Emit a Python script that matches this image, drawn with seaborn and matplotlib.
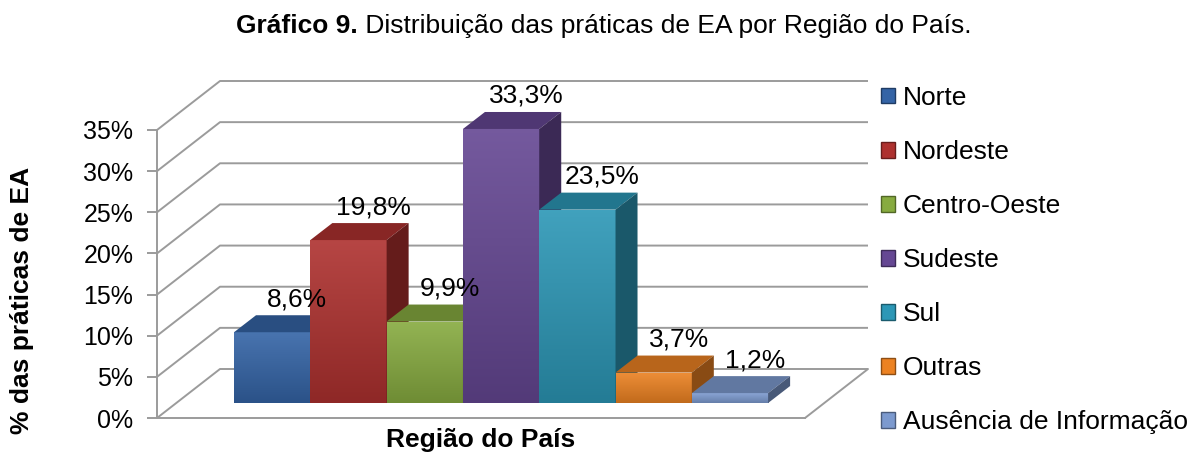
import matplotlib
matplotlib.use("Agg")
import matplotlib.pyplot as plt
import seaborn as sns
import pandas as pd
import numpy as np
from matplotlib.patches import Polygon, Patch
from matplotlib.colors import to_rgb, LinearSegmentedColormap
from matplotlib.ticker import FuncFormatter

# dados
regioes = ['Norte', 'Nordeste', 'Centro-Oeste', 'Sudeste', 'Sul', 'Outras', 'Ausência de Informação']
valores = [8.6, 19.8, 9.9, 33.3, 23.5, 3.7, 1.2]
cores = ['#3464A6', '#AE312F', '#87AB40', '#654793', '#2C97B6', '#EC8222', '#7C9ACF']
yticks = [0, 5, 10, 15, 20, 25, 30, 35]

df = pd.DataFrame({'Regiao': regioes, 'Valor': valores})

sns.set_style('white')
plt.rcParams['font.family'] = ['Liberation Sans', 'DejaVu Sans']
plt.rcParams['text.color'] = 'black'
plt.rcParams['ytick.color'] = 'black'
plt.rcParams['axes.labelcolor'] = 'black'

GRID = '#9b9b9b'


def shade(c, f):
    c = np.array(to_rgb(c))
    if f >= 1:
        return tuple(c + (1 - c) * (f - 1))
    return tuple(c * f)


fig = plt.figure(figsize=(12, 4.53), dpi=100)
ax = fig.add_axes([157 / 1200, 35 / 453, 648 / 1200, 288 / 453])

sns.barplot(data=df, x='Regiao', y='Valor', hue='Regiao', palette=cores,
            width=1, saturation=1, legend=False, ax=ax)

ax.set_xlim(-1.254, 7.239)
ax.set_ylim(0, 35)
xl, xr = ax.get_xlim()

# pixels -> unidades de dados
p0 = ax.transData.transform((0, 0))
p1 = ax.transData.transform((1, 1))
sx, sy = p1[0] - p0[0], p1[1] - p0[1]
WX, WY = 63 / sx, 49 / sy      # profundidade das paredes
BX, BY = 19.5 / sx, 15 / sy    # recuo das barras
DX, DY = 22 / sx, 17 / sy      # profundidade das barras

# paredes / grade 3D
for t in yticks:
    ax.plot([xl, xl + WX, xr + WX], [t, t + WY, t + WY], color=GRID, lw=1.4,
            zorder=0.5, clip_on=False, solid_capstyle='butt')
ax.plot([xr, xr + WX], [0, WY], color=GRID, lw=1.4, zorder=0.5, clip_on=False)

# barras 3D
for i, p in enumerate(ax.patches):
    x0, w, h = p.get_x(), p.get_width(), p.get_height()
    base = to_rgb(p.get_facecolor())
    p.set_x(x0 + BX)
    p.set_y(BY)
    p.set_zorder(4 + 2 * i)
    p.set_edgecolor('none')
    fx0, fx1, top = x0 + BX, x0 + BX + w, BY + h

    cmap = LinearSegmentedColormap.from_list('g', [shade(base, 1.1), shade(base, 0.82)])
    im = ax.imshow(np.linspace(0, 1, 100).reshape(-1, 1), cmap=cmap,
                   extent=[fx0, fx1, BY, top], origin='upper', aspect='auto',
                   zorder=4 + 2 * i + 0.1)
    im.set_clip_path(p)

    ax.add_patch(Polygon([(fx0, top), (fx1, top), (fx1 + DX, top + DY), (fx0 + DX, top + DY)],
                         closed=True, facecolor=shade(base, 0.78), edgecolor='none',
                         zorder=5 + 2 * i, clip_on=False))
    ax.add_patch(Polygon([(fx1, BY), (fx1, top), (fx1 + DX, top + DY), (fx1 + DX, BY + DY)],
                         closed=True, facecolor=shade(base, 0.58), edgecolor='none',
                         zorder=5 + 2 * i, clip_on=False))

    rotulo = f"{valores[i]:.1f}".replace('.', ',') + '%'
    ax.annotate(rotulo, xy=((fx0 + fx1) / 2, top), xytext=(25, 33),
                textcoords='offset pixels', ha='center', va='center',
                fontsize=19, color='black', zorder=40, annotation_clip=False)

ax.set_xlim(xl, xr)
ax.set_ylim(0, 35)

# eixos
ax.set_xticks([])
ax.set_yticks(yticks)
ax.yaxis.set_major_formatter(FuncFormatter(lambda v, pos: f"{int(v)}%"))
ax.tick_params(axis='y', left=True, length=7, width=1.4, color=GRID,
               labelcolor='black', labelsize=18, pad=10)
ax.set_xlabel('')
ax.set_ylabel('')
for s in ['top', 'right']:
    ax.spines[s].set_visible(False)
for s in ['left', 'bottom']:
    ax.spines[s].set_color(GRID)
    ax.spines[s].set_linewidth(1.4)
    ax.spines[s].set_zorder(0.5)

fig.text(481 / 1200, 1 - 440 / 453, 'Região do País', fontsize=19, weight='bold',
         ha='center', va='center')
fig.text(22 / 1200, 1 - 300 / 453, '% das práticas de EA', fontsize=19, weight='bold',
         ha='center', va='center', rotation=90)

# legenda
handles = [Patch(facecolor=c, edgecolor=shade(c, 0.6), lw=1) for c in cores]
ax.legend(handles, regioes, loc='upper left', bbox_to_anchor=(881 / 1200, 1 - 86 / 453),
          bbox_transform=fig.transFigure, frameon=False, fontsize=19,
          handlelength=0.53, handleheight=0.53, handletextpad=0.3,
          labelspacing=1.14, borderpad=0, borderaxespad=0)

# título (parte em negrito + parte normal)
r = fig.canvas.get_renderer()
t1 = fig.text(0, 0, 'Gráfico 9.', fontsize=19, weight='bold', va='center')
t2 = fig.text(0, 0, ' Distribuição das práticas de EA por Região do País.', fontsize=19, va='center')
w1 = t1.get_window_extent(r).width
w2 = t2.get_window_extent(r).width
xs = 604 - (w1 + w2) / 2
t1.set_position((xs / 1200, 1 - 26 / 453))
t2.set_position(((xs + w1) / 1200, 1 - 26 / 453))

fig.savefig('out.png', dpi=100)
